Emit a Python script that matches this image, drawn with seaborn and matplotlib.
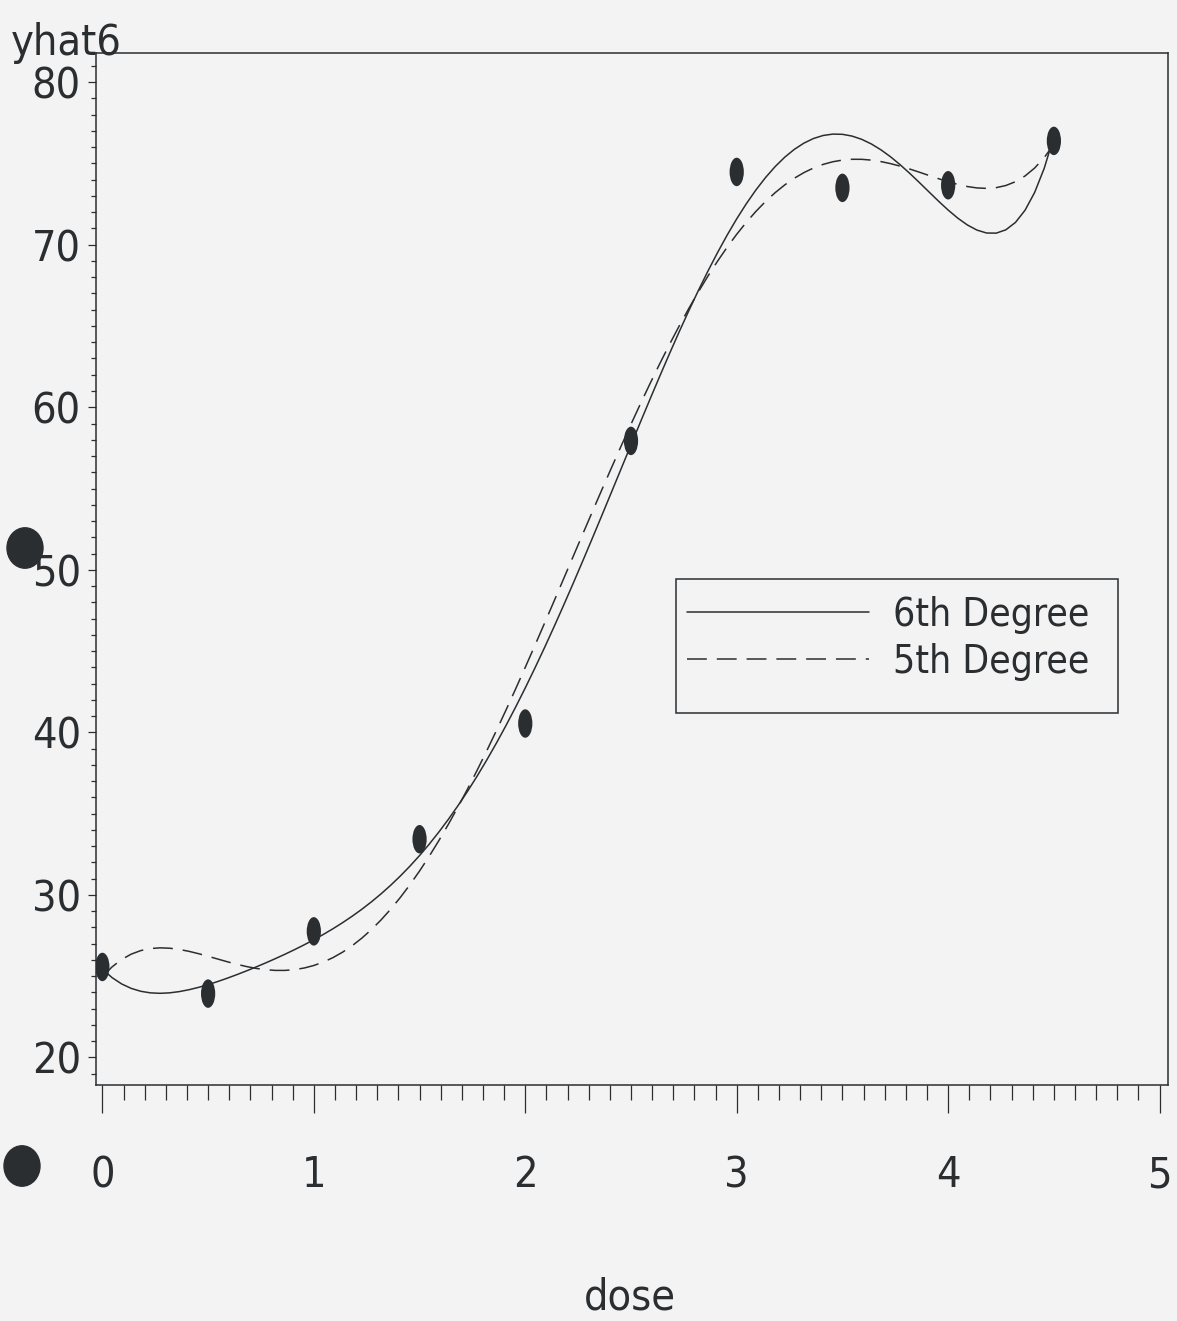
import numpy as np
import pandas as pd
import matplotlib
matplotlib.use("Agg")
import matplotlib.pyplot as plt
import seaborn as sns
from matplotlib import font_manager
from matplotlib.path import Path
from matplotlib.patches import Rectangle, Circle
from matplotlib.ticker import MultipleLocator

# data
dose = [0.0, 0.5, 1.0, 1.5, 2.0, 2.5, 3.0, 3.5, 4.0, 4.5]
response = [25.56, 23.92, 27.75, 33.42, 40.54, 57.93, 74.48, 73.50, 73.66, 76.39]
x_ticks = [0, 1, 2, 3, 4, 5]
y_ticks = [20, 30, 40, 50, 60, 70, 80]
fit_labels = ["6th Degree", "5th Degree"]

df = pd.DataFrame({"dose": dose, "yhat6": response})

paper = "#f3f3f3"
ink = "#2b2e31"

sns.set_theme(style="white")
# a narrow face gets closer to the tall SAS stroke font
names = {f.name for f in font_manager.fontManager.ttflist}
if "Liberation Sans Narrow" in names:
    plt.rcParams["font.family"] = ["Liberation Sans Narrow", "DejaVu Sans"]
    stretch = "normal"
else:
    plt.rcParams["font.family"] = ["DejaVu Sans"]
    stretch = "condensed"
plt.rcParams["font.stretch"] = stretch

fig = plt.figure(figsize=(11.77, 13.21), dpi=100, facecolor=paper)
ax = fig.add_axes([0.0816, 0.1787, 0.9108, 0.7812])
ax.set_facecolor(paper)

# tall ellipse marker like the plotted symbols
circ = Path.unit_circle()
ellipse = Path(circ.vertices * np.array([0.5, 1.0]), circ.codes)

sns.regplot(data=df, x="dose", y="yhat6", order=6, ci=None, scatter=False, ax=ax,
            line_kws=dict(color=ink, lw=1.1, label=fit_labels[0]))
sns.regplot(data=df, x="dose", y="yhat6", order=5, ci=None, scatter=False, ax=ax,
            line_kws=dict(color=ink, lw=1.1, dashes=(13, 6.5), label=fit_labels[1]))
sns.scatterplot(data=df, x="dose", y="yhat6", marker=ellipse, s=420, color=ink,
                edgecolor="none", ax=ax, zorder=3)

ax.set_xlim(-0.03, 5.04)
ax.set_ylim(18.3, 81.8)
ax.set_xticks(x_ticks)
ax.set_yticks(y_ticks)
ax.xaxis.set_minor_locator(MultipleLocator(0.1))
ax.yaxis.set_minor_locator(MultipleLocator(1))

for s in ax.spines.values():
    s.set_color(ink)
    s.set_linewidth(1.1)

ax.tick_params(axis="x", which="major", direction="out", length=20, width=0.9,
               color=ink, pad=30, labelsize=31, labelcolor=ink, bottom=True)
ax.tick_params(axis="x", which="minor", direction="out", length=11, width=0.9,
               color=ink, bottom=True)
ax.tick_params(axis="y", which="major", direction="out", length=6, width=0.9,
               color=ink, pad=5, labelsize=31, labelcolor=ink, left=True)
ax.tick_params(axis="y", which="minor", direction="out", length=3.5, width=0.9,
               color=ink, left=True)

ax.set_xlabel("dose", fontsize=31, color=ink)
ax.xaxis.set_label_coords(0.498, -0.218)
ax.xaxis.label.set_va("baseline")
ax.set_ylabel("yhat6", fontsize=31, color=ink, rotation=0, ha="left", va="baseline")
ax.yaxis.set_label_coords(-0.080, 0.998)

# legend box drawn separately, entries placed inside it
ax.add_patch(Rectangle((0.541, 0.360), 0.412, 0.130, transform=ax.transAxes,
                       fill=False, edgecolor=ink, lw=1.1, zorder=4))
handles = ax.lines[:2]
ax.legend(handles, fit_labels, loc="upper left", bbox_to_anchor=(0.551, 0.474),
          frameon=False, fontsize=28, handlelength=4.7, handletextpad=0.6,
          borderpad=0, borderaxespad=0, labelspacing=0.23, labelcolor=ink)

# hole punches on the scanned page
fig.patches.append(Circle((25 / 1177, 1 - 548 / 1321), 18 / 1177, transform=fig.transFigure,
                          color=ink, figure=fig))
fig.patches.append(Circle((22 / 1177, 1 - 1166 / 1321), 18 / 1177, transform=fig.transFigure,
                          color=ink, figure=fig))

fig.savefig("out.png", dpi=100, facecolor=paper)
